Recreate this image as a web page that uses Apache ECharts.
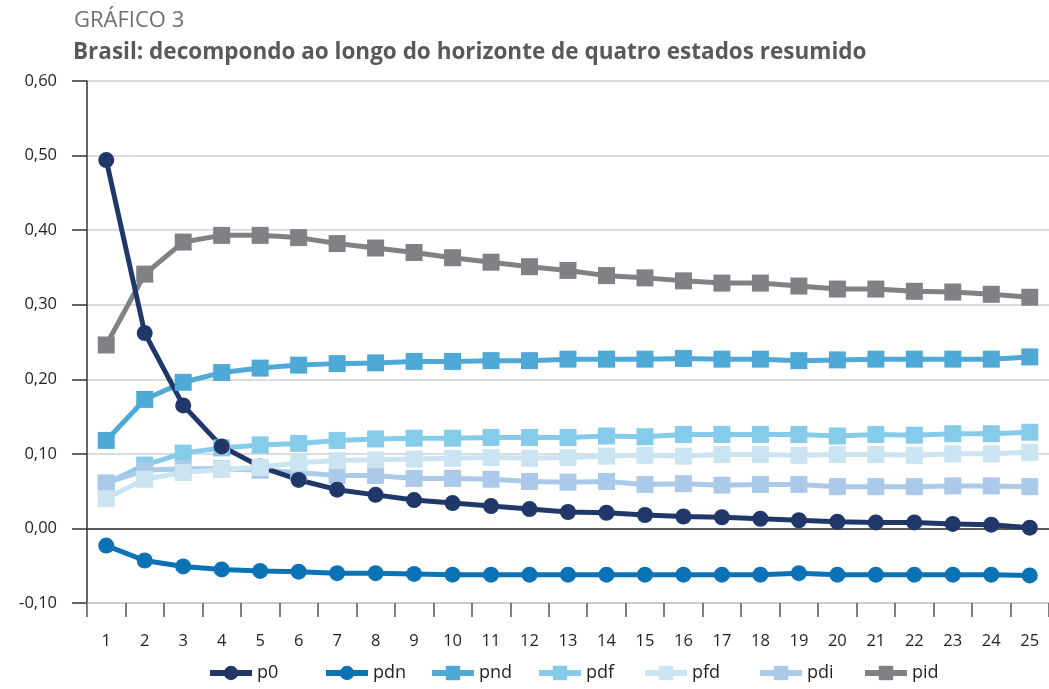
<!DOCTYPE html>
<html>
<head>
<meta charset="utf-8">
<script src="https://cdn.jsdelivr.net/npm/echarts@6/dist/echarts.min.js"></script>
<style>
  html, body { margin: 0; padding: 0; background: #fff; }
  #chart { width: 1049px; height: 689px; }
</style>
</head>
<body>
<div id="chart"></div>
<script>
// === Données ===
const horizonte = Array.from({ length: 25 }, (_, i) => String(i + 1));

const p0  = [0.494,0.262,0.165,0.110,0.083,0.065,0.052,0.045,0.038,0.034,0.030,0.026,0.022,0.021,0.018,0.016,0.015,0.013,0.011,0.009,0.008,0.008,0.006,0.005,0.001];
const pdn = [-0.023,-0.043,-0.051,-0.055,-0.057,-0.058,-0.060,-0.060,-0.061,-0.062,-0.062,-0.062,-0.062,-0.062,-0.062,-0.062,-0.062,-0.062,-0.060,-0.062,-0.062,-0.062,-0.062,-0.062,-0.063];
const pnd = [0.118,0.173,0.196,0.209,0.215,0.219,0.221,0.222,0.224,0.224,0.225,0.225,0.227,0.227,0.227,0.228,0.227,0.227,0.225,0.226,0.227,0.227,0.227,0.227,0.230];
const pdf = [0.060,0.085,0.101,0.108,0.112,0.114,0.118,0.120,0.121,0.121,0.122,0.122,0.122,0.124,0.123,0.126,0.126,0.126,0.126,0.124,0.126,0.125,0.127,0.127,0.129];
const pfd = [0.040,0.066,0.075,0.079,0.082,0.088,0.091,0.092,0.093,0.094,0.095,0.094,0.095,0.097,0.098,0.097,0.099,0.099,0.098,0.099,0.099,0.098,0.100,0.100,0.102];
const pdi = [0.061,0.078,0.080,0.080,0.078,0.075,0.071,0.071,0.067,0.067,0.066,0.063,0.062,0.063,0.059,0.060,0.058,0.059,0.059,0.056,0.056,0.056,0.057,0.057,0.056];
const pid = [0.246,0.341,0.384,0.393,0.393,0.390,0.382,0.376,0.370,0.363,0.357,0.351,0.346,0.339,0.336,0.332,0.329,0.329,0.325,0.321,0.321,0.318,0.317,0.314,0.310];

const legendOrder = ['p0', 'pdn', 'pnd', 'pdf', 'pfd', 'pdi', 'pid'];
const legendLeft  = [202, 318, 424, 531, 637, 752, 857];

// === Série de ligne avec marqueur ===
function serie(nom, data, couleur, symbole) {
    return {
        name: nom,
        type: 'line',
        data: data,
        symbol: symbole,
        symbolSize: symbole === 'circle' ? 16 : 17,
        lineStyle: { color: couleur, width: 5 },
        itemStyle: { color: couleur },
        emphasis: { disabled: true },
        animation: false
    };
}

const font = "'Open Sans', sans-serif";
const myChart = echarts.init(document.getElementById('chart'));

// une légende par entrée, pour garder l'espacement de l'original
const legends = legendOrder.map((nom, i) => ({
    data: [nom],
    left: legendLeft[i], top: 659,
    itemWidth: 42, itemHeight: 18,
    itemGap: 0,
    lineStyle: { width: 6 },
    textStyle: { fontFamily: font, fontSize: 18, color: '#231f20' }
}));

const option = {
    backgroundColor: '#ffffff',
    textStyle: { fontFamily: font },
    title: [
        {
            text: 'GRÁFICO 3',
            left: 69, top: 5,
            textStyle: { fontFamily: font, fontSize: 22, fontWeight: 'normal', color: '#6d6e71' }
        },
        {
            text: 'Brasil: decompondo ao longo do horizonte de quatro estados resumido',
            left: 68, top: 36,
            textStyle: { fontFamily: font, fontSize: 22.5, fontWeight: 'bold', color: '#58595b' }
        }
    ],
    legend: legends,
    grid: { left: 87, right: -3, top: 81, bottom: 86 },
    xAxis: {
        type: 'category',
        data: horizonte,
        boundaryGap: true,
        axisLine: { onZero: false, lineStyle: { color: '#c8c8c8', width: 1.5 } },
        axisTick: { show: true, length: 14, lineStyle: { color: '#555', width: 1.5 } },
        axisLabel: { margin: 30, fontSize: 16.5, color: '#231f20', fontFamily: font },
        splitLine: { show: false }
    },
    yAxis: {
        type: 'value',
        min: -0.1, max: 0.6, interval: 0.1,
        axisLine: { show: true, lineStyle: { color: '#333', width: 1.5 } },
        axisTick: { show: true, length: 15, lineStyle: { color: '#333', width: 1.5 } },
        axisLabel: {
            margin: 30, fontSize: 16.5, color: '#231f20', fontFamily: font,
            formatter: v => v.toFixed(2).replace('.', ',')
        },
        splitLine: {
            show: true,
            lineStyle: { color: ['#d0d0d0', '#222222', '#d0d0d0', '#d0d0d0', '#d0d0d0', '#d0d0d0', '#d0d0d0', '#d0d0d0'], width: 1.5 }
        }
    },
    series: [
        serie('pid', pid, '#808184', 'rect'),
        serie('pnd', pnd, '#4fa9d6', 'rect'),
        serie('pdf', pdf, '#85cbea', 'rect'),
        serie('pdi', pdi, '#abcaea', 'rect'),
        serie('p0',  p0,  '#1f3769', 'circle'),
        serie('pfd', pfd, '#cbe4f1', 'rect'),
        serie('pdn', pdn, '#0b72b5', 'circle')
    ]
};
myChart.setOption(option);
</script>
</body>
</html>
